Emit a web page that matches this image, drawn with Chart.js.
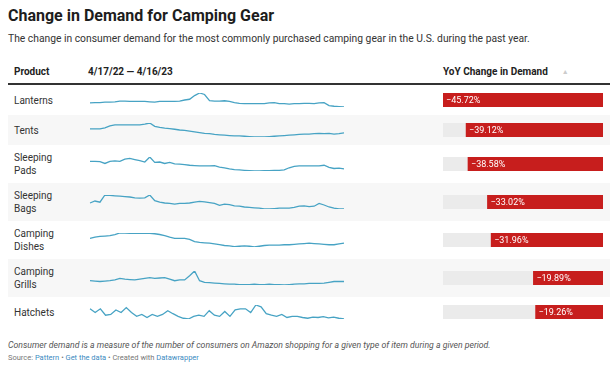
<!DOCTYPE html>
<html>
<head>
<meta charset="utf-8">
<script src="https://cdn.jsdelivr.net/npm/chart.js@4.4.1/dist/chart.umd.min.js"></script>
<style>
  body { margin: 0; background: #fff; font-family: Roboto, sans-serif; color: #333; }
  #wrap { position: relative; width: 612px; height: 367px; overflow: hidden; }
  h1 { position: absolute; left: 8px; top: 6px; margin: 0; font-size: 16px; font-weight: 700; color: #1d1d1d; }
  .sub { position: absolute; left: 8px; top: 32px; font-size: 10.3px; color: #333; }
  .head { position: absolute; top: 66px; font-size: 10px; font-weight: 700; color: #222; }
  .arrow { color: #ccc; font-size: 7px; font-weight: 400; margin-left: 14px; vertical-align: 1px; }
  .rule { position: absolute; left: 8px; top: 83px; width: 602px; height: 2px; background: #333; }
  .row { position: absolute; left: 8px; width: 602px; }
  .row.alt { background: #f7f7f7; }
  .lbl { position: absolute; left: 6px; top: 50%; transform: translateY(-50%); font-size: 10px; line-height: 13px; color: #333; }
  .spark { position: absolute; left: 80px; top: 50%; margin-top: -9px; }
  .bar { position: absolute; left: 435px; top: 50%; margin-top: -7px; }
  .note { position: absolute; left: 8px; top: 340px; font-size: 8.7px; font-style: italic; color: #555; }
  .src { position: absolute; left: 8px; top: 353px; font-size: 7.5px; color: #777; }
  .src a { color: #3b8bbf; text-decoration: none; }
</style>
</head>
<body>
<div id="wrap">
  <h1>Change in Demand for Camping Gear</h1>
  <div class="sub">The change in consumer demand for the most commonly purchased camping gear in the U.S. during the past year.</div>
  <div class="head" style="left:14px">Product</div>
  <div class="head" style="left:88px">4/17/22 — 4/16/23</div>
  <div class="head" style="left:443px">YoY Change in Demand<span class="arrow">▲</span></div>
  <div class="rule"></div>
  <div id="rows"></div>
  <div class="note">Consumer demand is a measure of the number of consumers on Amazon shopping for a given type of item during a given period.</div>
  <div class="src">Source: <a>Pattern</a> • <a>Get the data</a> • Created with <a>Datawrapper</a></div>
</div>
<script>
// products, top to bottom
const products = ['Lanterns', 'Tents', 'Sleeping<br>Pads', 'Sleeping<br>Bags', 'Camping<br>Dishes', 'Camping<br>Grills', 'Hatchets'];
// YoY change in demand, %
const yoyChange = [-45.72, -39.12, -38.58, -33.02, -31.96, -19.89, -19.26];

// weekly demand index, 4/17/22 - 4/16/23
const lanterns = [55,56,56,57,57,58,60,60,59,59,59,59,58,57,59,59,59,59,60,63,65,75,82,78,61,60,60,61,59,56,54,53,53,53,53,53,55,56,53,53,52,53,53,54,54,53,55,56,48,46,45,44];
const tents = [67,67,67,70,75,78,78,78,78,78,78,80,83,74,71,69,68,66,64,63,61,59,57,55,54,52,51,50,49,48,48,47,46,45,45,45,46,47,48,49,50,51,52,53,53,54,55,54,55,53,54,56];
const sleepingPads = [68,68,67,62,68,69,68,74,76,73,70,66,80,65,66,62,65,61,60,59,57,56,55,55,55,56,52,50,47,45,44,43,42,41,41,42,42,43,43,44,50,54,55,55,55,55,55,57,51,48,49,47];
const sleepingBags = [58,63,60,78,77,76,75,74,73,71,70,71,78,64,60,58,57,55,57,57,58,60,62,61,59,57,52,55,54,51,50,48,47,46,45,43,43,44,45,45,45,47,50,51,49,50,57,53,48,45,43,43];
const campingDishes = [45,48,50,51,52,55,59,59,58,58,58,58,58,57,55,52,48,45,45,45,42,36,34,33,32,30,28,26,25,23,24,25,24,22,24,26,27,27,27,28,28,29,30,31,32,31,30,29,28,28,30,32];
const campingGrills = [22,21,20,21,22,24,28,26,25,24,26,28,30,28,29,30,26,22,24,24,35,47,22,18,17,16,15,14,13,13,12,12,12,13,12,12,13,12,12,11,12,13,14,14,15,15,15,16,18,20,20,20];
const hatchets = [35,25,35,18,20,32,25,38,25,15,20,12,20,15,20,30,22,15,10,8,15,18,15,30,18,15,28,15,32,35,35,25,45,40,22,18,15,20,12,15,15,12,10,13,12,14,11,13,10,8];
const trends = [lanterns, tents, sleepingPads, sleepingBags, campingDishes, campingGrills, hatchets];

const lineColor = '#47a3c4';
const barColor = '#c71e1d';
const trackColor = '#ebebeb';
const scaleMin = Math.min(...yoyChange);

const fmt = v => (v < 0 ? '\u2212' : '') + Math.abs(v).toFixed(2) + '%';

const valueLabel = {
  id: 'valueLabel',
  afterDatasetsDraw(chart) {
    const el = chart.getDatasetMeta(0).data[0];
    const v = chart.data.datasets[0].data[0];
    const ctx = chart.ctx;
    ctx.save();
    ctx.fillStyle = '#fff';
    ctx.font = '9px Roboto';
    ctx.textBaseline = 'middle';
    ctx.fillText(fmt(v), el.x + 3, el.y + 0.5);
    ctx.restore();
  }
};

const rowsEl = document.getElementById('rows');
let rowTop = 85;
products.forEach((name, i) => {
  const h = name.includes('<br>') ? 38 : 30;
  const row = document.createElement('div');
  row.className = 'row' + (i % 2 ? ' alt' : '');
  row.style.top = rowTop + 'px';
  row.style.height = h + 'px';
  row.innerHTML = '<div class="lbl">' + name + '</div>' +
    '<canvas class="spark" width="258" height="18"></canvas>' +
    '<canvas class="bar" width="160" height="14"></canvas>';
  rowsEl.appendChild(row);
  rowTop += h;

  const series = trends[i];
  new Chart(row.querySelector('.spark'), {
    type: 'line',
    data: {
      labels: series.map((_, k) => k),
      datasets: [{ data: series, borderColor: lineColor, borderWidth: 1.3, pointRadius: 0, tension: 0 }]
    },
    options: {
      responsive: false, animation: false, events: [],
      layout: { padding: 2 },
      plugins: { legend: { display: false }, tooltip: { enabled: false } },
      scales: {
        x: { display: false },
        y: { display: false, min: Math.min(...series), max: Math.max(...series) }
      }
    }
  });

  new Chart(row.querySelector('.bar'), {
    type: 'bar',
    data: {
      labels: [name],
      datasets: [
        { data: [yoyChange[i]], backgroundColor: barColor, barPercentage: 1, categoryPercentage: 1, grouped: false, order: 0 },
        { data: [scaleMin], backgroundColor: trackColor, barPercentage: 1, categoryPercentage: 1, grouped: false, order: 1 }
      ]
    },
    options: {
      indexAxis: 'y', responsive: false, animation: false, events: [],
      plugins: { legend: { display: false }, tooltip: { enabled: false } },
      scales: {
        x: { display: false, min: scaleMin, max: 0 },
        y: { display: false }
      }
    },
    plugins: [valueLabel]
  });
});
</script>
</body>
</html>
